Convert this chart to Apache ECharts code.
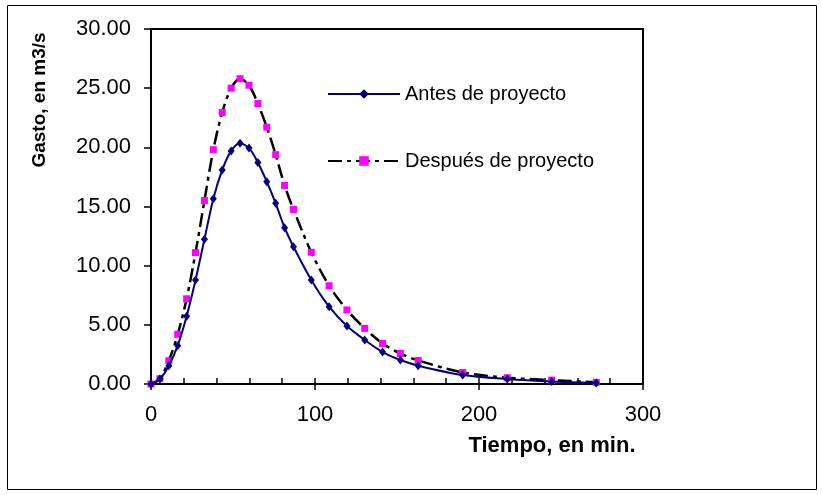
<!DOCTYPE html>
<html>
<head>
<meta charset="utf-8">
<script src="https://cdn.jsdelivr.net/npm/echarts@6/dist/echarts.min.js"></script>
<style>
  html, body { margin: 0; padding: 0; background: #fff; }
  #chart { width: 822px; height: 495px; }
</style>
</head>
<body>
<div id="chart"></div>
<script>
// tiempo en min.
const tiempo = [0, 5.43, 10.86, 16.29, 21.72, 27.15, 32.58, 38.01, 43.44, 48.87, 54.3, 59.73, 65.16, 70.59,
  76.02, 81.45, 86.88, 97.74, 108.6, 119.46, 130.32, 141.18, 152.04, 162.9, 190.05, 217.2, 244.35, 271.5];
// gasto en m3/s
const antes = [0, 0.42, 1.55, 3.24, 5.72, 8.79, 12.23, 15.66, 18.09, 19.7, 20.35, 19.95, 18.72, 17.1,
  15.27, 13.21, 11.6, 8.79, 6.53, 4.9, 3.72, 2.7, 2.03, 1.55, 0.76, 0.42, 0.21, 0.09];
const despues = [0, 0.45, 1.97, 4.2, 7.2, 11.1, 15.5, 19.8, 22.95, 25.0, 25.8, 25.25, 23.7, 21.7,
  19.38, 16.78, 14.75, 11.13, 8.3, 6.26, 4.7, 3.42, 2.58, 1.99, 0.97, 0.53, 0.33, 0.14];
const xTicks = [0, 100, 200, 300];
const yTicks = [0, 5, 10, 15, 20, 25, 30];
const nombres = ["Antes de proyecto", "Después de proyecto"];

const font = 'Arial, "Liberation Sans", sans-serif';
const chart = echarts.init(document.getElementById("chart"));

const option = {
  backgroundColor: "#fff",
  animation: false,
  grid: {
    left: 151, top: 29, right: 179, bottom: 111,
    show: true, borderColor: "#000", borderWidth: 2,
  },
  legend: {
    orient: "vertical",
    left: 322, top: 79,
    itemWidth: 72, itemHeight: 12, itemGap: 47,
    textStyle: { fontSize: 20, color: "#000", fontFamily: font },
    data: nombres,
  },
  xAxis: [
    {
      type: "value",
      min: xTicks[0], max: xTicks[xTicks.length - 1], interval: 100,
      position: "bottom",
      axisLine: { show: true, onZero: false, lineStyle: { color: "#000", width: 2 } },
      axisTick: { show: true, length: 6, lineStyle: { color: "#000", width: 1.5 } },
      axisLabel: { margin: 20, fontSize: 22, color: "#000", fontFamily: font },
      splitLine: { show: false },
    },
    {
      // marcas menores hacia adentro
      type: "value",
      min: xTicks[0], max: xTicks[xTicks.length - 1], interval: 20,
      position: "bottom",
      axisLine: { show: false, onZero: false },
      axisTick: { show: true, inside: true, length: 6, lineStyle: { color: "#000", width: 1.5 } },
      axisLabel: { show: false },
      splitLine: { show: false },
    },
  ],
  yAxis: {
    type: "value",
    min: yTicks[0], max: yTicks[yTicks.length - 1], interval: 5,
    axisLine: { show: true, onZero: false, lineStyle: { color: "#000", width: 2 } },
    axisTick: { show: true, length: 7, lineStyle: { color: "#000", width: 1.5 } },
    axisLabel: {
      margin: 20, fontSize: 22, color: "#000", fontFamily: font,
      formatter: (v) => v.toFixed(2),
    },
    splitLine: { show: false },
  },
  series: [
    {
      name: nombres[0],
      type: "line",
      xAxisIndex: 0,
      data: tiempo.map((t, i) => [t, antes[i]]),
      smooth: 0.3,
      symbol: "diamond",
      symbolSize: [7, 9],
      itemStyle: { color: "#000080" },
      lineStyle: { color: "#000080", width: 2 },
      z: 3,
    },
    {
      name: nombres[1],
      type: "line",
      xAxisIndex: 0,
      data: tiempo.map((t, i) => [t, despues[i]]),
      smooth: 0.3,
      symbol: "rect",
      symbolSize: 7,
      itemStyle: { color: "#ff00ff" },
      lineStyle: { color: "#000", width: 2.5, type: [14, 5, 4, 5] },
      z: 2,
    },
  ],
  graphic: [
    {
      type: "rect", silent: true,
      shape: { x: 7.5, y: 5.5, width: 809, height: 484 },
      style: { fill: "none", stroke: "#000", lineWidth: 1 },
    },
    {
      type: "text", x: 40, y: 100, rotation: Math.PI / 2,
      style: {
        text: "Gasto, en m3/s", font: "bold 19px " + font, fill: "#000",
        textAlign: "center", textVerticalAlign: "middle",
      },
    },
    {
      type: "text", x: 552, y: 446,
      style: {
        text: "Tiempo, en min.", font: "bold 22px " + font, fill: "#000",
        textAlign: "center", textVerticalAlign: "middle",
      },
    },
  ],
};

chart.setOption(option);
</script>
</body>
</html>
